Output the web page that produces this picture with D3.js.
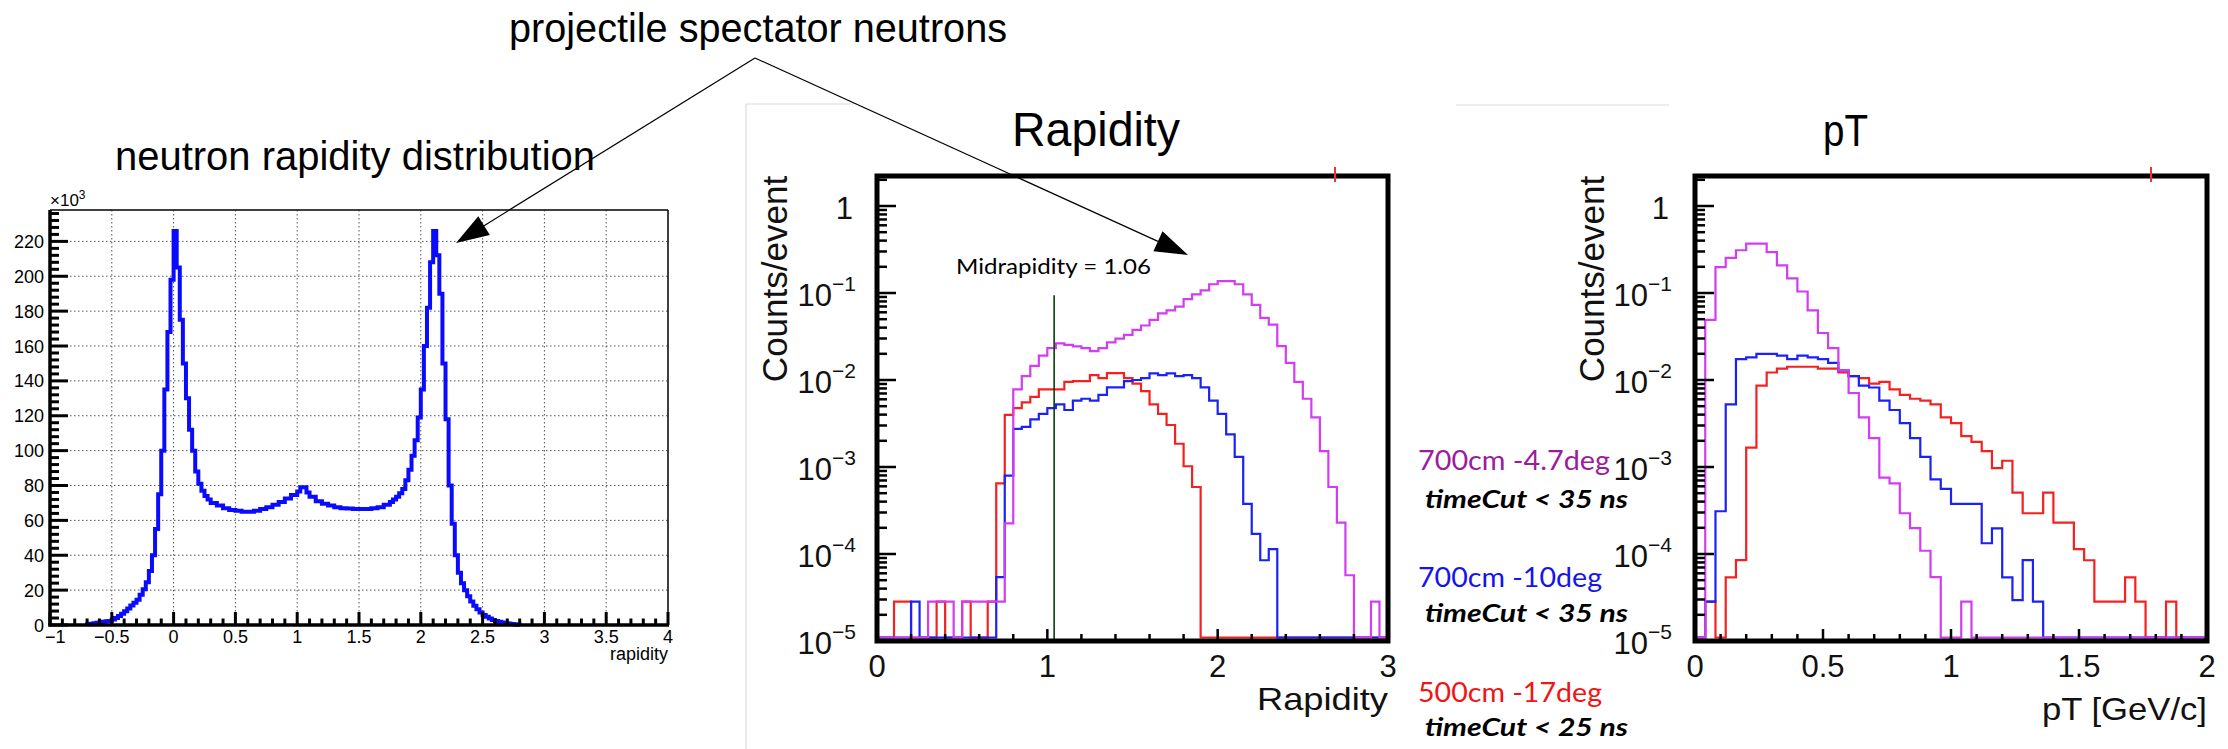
<!DOCTYPE html>
<html><head><meta charset="utf-8">
<script src="https://cdn.jsdelivr.net/npm/d3@7"></script>
<style>body{margin:0;background:#fff}svg{display:block}</style>
</head><body>
<svg id="c" width="2228" height="749"></svg>
<script>
// ---------------- DATA ----------------
// Left panel: neutron rapidity distribution (counts x10^3), bin lower edges + last upper edge
const leftEdges=[-0.700,-0.675,-0.650,-0.625,-0.600,-0.575,-0.550,-0.525,-0.500,-0.475,-0.450,-0.425,-0.400,-0.375,-0.350,-0.325,-0.300,-0.275,-0.250,-0.225,
 -0.200,-0.175,-0.150,-0.125,-0.100,-0.075,-0.050,-0.025,0.000,0.025,0.050,0.075,0.100,0.125,0.150,0.175,0.200,0.225,0.250,0.275,
 0.30,0.35,0.40,0.45,0.50,0.55,0.60,0.65,0.70,0.75,0.80,0.85,0.90,0.95,
 1.000,1.025,1.050,1.075,1.100,
 1.15,1.20,1.25,1.30,1.35,1.40,1.45,1.50,1.55,1.60,1.65,1.70,
 1.750,1.775,1.800,1.825,1.850,1.875,1.900,1.925,1.950,1.975,2.000,2.025,2.050,2.075,2.100,2.125,2.150,2.175,2.200,2.225,
 2.250,2.275,2.300,2.325,2.350,2.375,2.400,2.425,2.450,2.475,2.500,2.525,2.550,2.575,2.600,2.625,2.650,2.675,2.700,2.725,
 2.750,2.775,2.800];
const leftCounts=[0.4,0.7,1.0,1.3,1.6,1.9,2.1,2.3,3.1,4.0,5.2,6.4,7.9,9.5,11.2,12.8,14.5,17.3,20.5,24.5,
 31,40,55,75,100,135,168,198,226,205,175,150,130,112,100,88,81,77,74,72,
 70,68.5,67,66,65.5,65,65,65.5,66.5,67.5,69,70.5,72.5,74.5,
 76.5,79,79,76,73.5,
 71,69.5,68.5,67.5,67,66.8,66.5,66.5,66.5,67,67.5,69,
 70.5,72,73.5,75.5,78,83,89,97,106,119,135,160,182,208,226,212,190,150,118,80,58,40,30,24,
 20,16.5,13.5,11,9,7.2,5.8,4.7,3.7,2.9,2.3,1.8,1.4,1.1,0.8,0.6,0.4,0.2];
const leftXTicks=[-1,-0.5,0,0.5,1,1.5,2,2.5,3,3.5,4];
const leftXTickLabels=["\u22121","\u22120.5","0","0.5","1","1.5","2","2.5","3","3.5","4"];
const leftYTicks=[0,20,40,60,80,100,120,140,160,180,200,220];

// Rapidity panel (counts/event), bin width 0.05 from 0 to 3
const rapBinWidth=0.05;
const rapRed=[0,0,2.84e-5,2.84e-5,0,0,0,2.84e-5,0,0,2.84e-5,0,0,2.84e-5,6.5e-4,
 0.00397,0.00475,0.00552,0.00641,0.00781,0.00781,0.00781,0.00953,0.00972,0.00972,
 0.0114,0.0105,0.0120,0.0120,0.0105,0.00907,0.00743,0.00525,0.00409,0.00304,
 0.00185,0.00102,0.000589,
 0,0,0,0,0,0,0,0,0,0,0,0,0,0,0,0,0,0,0,0,0,0];
const rapBlue=[0,0,0,0,2.84e-5,0,0,0,0,0,0,0,0,0,5.42e-5,
 0.000794,0.00275,0.00289,0.00353,0.00409,0.00475,0.00525,0.00452,0.00580,0.00609,
 0.00580,0.00673,0.00821,0.00821,0.00972,0.0100,0.0105,0.0119,0.0114,0.0119,
 0.0111,0.0114,0.0105,0.00821,0.00580,0.00409,0.00237,0.00131,0.000377,0.000170,
 0.0000848,0.000114,0,0,0,0,0,0,0,0,0,0,0,0,0];
const rapMagenta=[0,0,0,0,0,0,2.84e-5,2.84e-5,2.84e-5,0,2.84e-5,2.84e-5,2.84e-5,2.84e-5,2.84e-5,
 2.25e-4,7.8e-3,0.0111,0.0145,0.0191,0.0233,0.0263,0.0253,0.0243,0.0233,
 0.0215,0.0233,0.0271,0.0299,0.0330,0.0376,0.0423,0.0492,0.0582,0.0631,
 0.0697,0.0849,0.0966,0.107,0.126,0.137,0.137,0.126,0.0966,0.0732,
 0.0517,0.0432,0.0245,0.0157,0.00953,0.00609,0.00371,0.00152,0.000589,0.000229,
 0.000057,0,0,2.84e-5,0];

// pT panel (counts/event), bin width 0.04 from 0 to 2
const ptBinWidth=0.04;
const ptRed=[0,2.84e-5,0,5.4e-5,8.5e-5,0.00167,0.00863,0.0122,0.0135,0.0142,
 0.0142,0.0142,0.0135,0.0135,0.0122,0.0111,0.0105,0.00907,0.00953,0.00781,
 0.00673,0.00609,0.0058,0.00525,0.00371,0.00319,0.00226,0.00194,0.00152,0.00097,
 0.00118,0.000508,0.000294,0.000294,0.000508,0.000229,0.000229,0.000114,0.0000848,2.84e-5,
 2.84e-5,2.84e-5,5.4e-5,2.84e-5,0,0,2.84e-5,0,0,0];
const ptBlue=[0,2.84e-5,3.1e-4,5.25e-3,0.0174,0.0182,0.020,0.020,0.0191,0.0174,
 0.0191,0.0182,0.0174,0.0157,0.0129,0.0111,0.0086,0.0082,0.0058,0.00452,
 0.00319,0.00215,0.00131,0.00072,0.00056,0.000377,0.000377,0.000377,0.000133,0.000197,
 5.4e-5,2.95e-5,8.5e-5,2.84e-5,0,0,0,0,0,0,0,0,0,0,0,0,0,0,0,0];
const ptMagenta=[0,0.049,0.198,0.254,0.31,0.37,0.37,0.295,0.208,0.147,
 0.104,0.063,0.0347,0.0233,0.0129,0.00709,0.00371,0.00215,0.000755,0.00065,
 0.000294,0.000198,0.000109,0.0000542,0,0,2.84e-5,0,0,0,
 0,0,0,0,0,0,0,0,0,0,0,0,0,0,0,0,0,0,0,0];

const rapXTicks=[0,1,2,3];
const rapXTickLabels=["0","1","2","3"];
const ptXTicks=[0,0.5,1,1.5,2];
const ptXTickLabels=["0","0.5","1","1.5","2"];
const logTicks=[1,1e-1,1e-2,1e-3,1e-4,1e-5];
const logTickExps=[null,"\u22121","\u22122","\u22123","\u22124","\u22125"];

const midrapidityX=1.04, midrapidityTop=0.094;
const midrapidityLabel="Midrapidity = 1.06";
const legendItems=[
 {name:"700cm -4.7deg", cut:"timeCut < 35 ns", color:"#9b1d9b"},
 {name:"700cm -10deg", cut:"timeCut < 35 ns", color:"#1414f0"},
 {name:"500cm -17deg", cut:"timeCut < 25 ns", color:"#f01414"}
];
const topAnnotation="projectile spectator neutrons";
const leftTitle="neutron rapidity distribution";

// ---------------- DRAW ----------------
const svg=d3.select("#c");
const SANS="'Liberation Sans', Arial, Helvetica, sans-serif";
const CAL="Lato, 'Open Sans', sans-serif";
const defs=svg.append("defs");

function stepPts(edges, vals){
  const p=[[edges[0],0]];
  vals.forEach((v,i)=>p.push([edges[i],v]));
  p.push([edges[edges.length-1],vals[vals.length-1]]);
  p.push([edges[edges.length-1],0]);
  return p;
}

// ===== Left panel =====
const L={x0:50,x1:668,y0:210,y1:625};
const lx=d3.scaleLinear().domain([-1,4]).range([L.x0,L.x1]);
const ly=d3.scaleLinear().domain([0,238]).range([L.y1,L.y0]);
const gl=svg.append("g");
// grid
gl.selectAll(".gx").data(leftXTicks.slice(1,-1)).enter().append("line")
 .attr("x1",d=>lx(d)).attr("x2",d=>lx(d)).attr("y1",L.y0).attr("y2",L.y1)
 .attr("stroke","#555").attr("stroke-width",1).attr("stroke-dasharray","1.5,2.5");
gl.selectAll(".gy").data(leftYTicks.slice(1)).enter().append("line")
 .attr("x1",L.x0).attr("x2",L.x1).attr("y1",d=>ly(d)).attr("y2",d=>ly(d))
 .attr("stroke","#555").attr("stroke-width",1).attr("stroke-dasharray","1.5,2.5");
// frame thin top/right
gl.append("line").attr("x1",L.x0).attr("x2",L.x1).attr("y1",L.y0).attr("y2",L.y0).attr("stroke","#000").attr("stroke-width",1.5);
gl.append("line").attr("x1",L.x1).attr("x2",L.x1).attr("y1",L.y0).attr("y2",L.y1).attr("stroke","#000").attr("stroke-width",1.5);
// histogram
gl.append("path").attr("d",d3.line().x(d=>lx(d[0])).y(d=>ly(d[1])).curve(d3.curveStepAfter)(stepPts(leftEdges,leftCounts)))
 .attr("fill","none").attr("stroke","#0a0aff").attr("stroke-width",4);
// ticks
const lxMinor=d3.range(-10,41).map(i=>i/10);
gl.selectAll(".txm").data(lxMinor).enter().append("line")
 .attr("x1",d=>lx(d)).attr("x2",d=>lx(d)).attr("y1",L.y1)
 .attr("y2",d=>L.y1-(Math.abs(d*2-Math.round(d*2))<1e-6?13:6.5))
 .attr("stroke","#000").attr("stroke-width",3);
const lyMinor=d3.range(0,60).map(i=>i*4);
gl.selectAll(".tym").data(lyMinor).enter().append("line")
 .attr("y1",d=>ly(d)).attr("y2",d=>ly(d)).attr("x1",L.x0)
 .attr("x2",d=>L.x0+(d%20===0?18:9))
 .attr("stroke","#000").attr("stroke-width",3);
gl.append("line").attr("x1",L.x0).attr("x2",L.x0).attr("y1",L.y0).attr("y2",L.y1+1.5).attr("stroke","#000").attr("stroke-width",3.5);
gl.append("line").attr("x1",L.x0-1.5).attr("x2",L.x1+1).attr("y1",L.y1).attr("y2",L.y1).attr("stroke","#000").attr("stroke-width",3.5);
// labels
gl.selectAll(".lxl").data(leftXTicks).enter().append("text")
 .attr("x",(d,i)=>i===0?45:lx(d)).attr("y",643).attr("text-anchor",(d,i)=>i===0?"start":"middle")
 .attr("font-family",SANS).attr("font-size",18).text((d,i)=>leftXTickLabels[i]);
gl.selectAll(".lyl").data(leftYTicks).enter().append("text")
 .attr("x",44).attr("y",d=>ly(d)+6.5).attr("text-anchor","end")
 .attr("font-family",SANS).attr("font-size",18).text(d=>d);
gl.append("text").attr("x",L.x1).attr("y",660).attr("text-anchor","end")
 .attr("font-family",SANS).attr("font-size",18).text("rapidity");
const xt=gl.append("text").attr("x",50).attr("y",206).attr("font-family",SANS).attr("font-size",17);
xt.append("tspan").text("\u00d710");
xt.append("tspan").attr("dy",-7).attr("font-size",12).text("3");
// title
svg.append("text").attr("x",115).attr("y",170).attr("font-family",SANS).attr("font-size",40)
 .attr("textLength",480).attr("lengthAdjust","spacingAndGlyphs").text(leftTitle);

// ===== Log panels =====
const LOGTOP=176, LOGBOT=641;
const ylog=d3.scaleLog().domain([1e-5,1]).range([641,206]);
const topVal=ylog.invert(LOGTOP);
const yZero=LOGBOT-3.5;
const yv=v=>v>0?Math.min(ylog(v),yZero):yZero;

function logPanel(cfg){
  const g=svg.append("g");
  const x=d3.scaleLinear().domain(cfg.domain).range([cfg.x0,cfg.x1]);
  const id="clip"+cfg.id;
  defs.append("clipPath").attr("id",id).append("rect")
   .attr("x",cfg.x0).attr("y",LOGTOP).attr("width",cfg.x1-cfg.x0).attr("height",LOGBOT-LOGTOP);
  const hg=g.append("g").attr("clip-path",`url(#${id})`);
  const line=d3.line().x(d=>x(d[0])).y(d=>yv(d[1])).curve(d3.curveStepAfter);
  cfg.series.forEach(s=>{
    const edges=d3.range(s.vals.length+1).map(i=>i*cfg.bw);
    hg.append("path").attr("d",line(stepPts(edges,s.vals)))
     .attr("fill","none").attr("stroke",s.color).attr("stroke-width",2.2);
  });
  if(cfg.extra) cfg.extra(g,x);
  // left ticks (log)
  const lt=[];
  for(let e=-5;e<=0;e++){for(let m=1;m<=9;m++){const v=m*Math.pow(10,e); if(v<=topVal) lt.push({v,maj:m===1});}}
  g.selectAll(".lt").data(lt).enter().append("line")
   .attr("x1",cfg.x0).attr("x2",d=>cfg.x0+(d.maj?19:10))
   .attr("y1",d=>ylog(d.v)).attr("y2",d=>ylog(d.v)).attr("stroke","#000").attr("stroke-width",2.5);
  // bottom ticks
  g.selectAll(".bt").data(cfg.bticks).enter().append("line")
   .attr("x1",d=>x(d.v)).attr("x2",d=>x(d.v)).attr("y1",LOGBOT).attr("y2",d=>LOGBOT-(d.maj?12:7))
   .attr("stroke","#000").attr("stroke-width",2.5);
  // frame
  g.append("rect").attr("x",cfg.x0).attr("y",LOGTOP).attr("width",cfg.x1-cfg.x0).attr("height",LOGBOT-LOGTOP)
   .attr("fill","none").attr("stroke","#000").attr("stroke-width",5);
  // red stray tick at top
  g.append("line").attr("x1",cfg.redTick).attr("x2",cfg.redTick).attr("y1",LOGTOP-9).attr("y2",LOGTOP+6)
   .attr("stroke","#f03030").attr("stroke-width",2);
  // y labels
  logTicks.forEach((v,i)=>{
    const t=g.append("text").attr("x",cfg.ylabX).attr("y",ylog(v)+13).attr("text-anchor","end")
     .attr("font-family",SANS).attr("font-size",31).attr("fill","#111");
    if(logTickExps[i]===null){t.attr("x",cfg.ylabX-3).text("1");}
    else{t.append("tspan").text("10");t.append("tspan").attr("dy",-15).attr("font-size",21).text(logTickExps[i]);}
  });
  // x labels
  g.selectAll(".xl").data(cfg.xticks).enter().append("text")
   .attr("x",d=>x(d)).attr("y",677).attr("text-anchor","middle")
   .attr("font-family",SANS).attr("font-size",31).attr("fill","#111").text((d,i)=>cfg.xlabels[i]);
  // axis titles
  g.append("text").attr("x",cfg.x1).attr("y",cfg.xtitleY).attr("text-anchor","end")
   .attr("font-family",SANS).attr("font-size",32).attr("fill","#111")
   .attr("textLength",cfg.xtitleLen).attr("lengthAdjust","spacingAndGlyphs").text(cfg.xtitle);
  g.append("text").attr("transform",`translate(${cfg.ytitleX},279) rotate(-90)`).attr("text-anchor","middle")
   .attr("font-family",SANS).attr("font-size",35).attr("fill","#111").text("Counts/event");
  // panel title
  g.append("text").attr("x",cfg.titleX).attr("y",146).attr("font-family",SANS).attr("font-size",cfg.titleSize)
   .attr("textLength",cfg.titleLen).attr("lengthAdjust","spacingAndGlyphs").text(cfg.title);
  return x;
}

// pasted-image faint borders
svg.append("path").attr("d","M746,749 L746,104 L854,104").attr("fill","none").attr("stroke","#dcdcdc").attr("stroke-width",1.2);
svg.append("line").attr("x1",1456).attr("x2",1669).attr("y1",105).attr("y2",105).attr("stroke","#dcdcdc").attr("stroke-width",1.2);

const rapTicks=d3.range(0,16).map(i=>({v:i*0.2,maj:i%5===0}));
logPanel({id:"rap",x0:877,x1:1388,domain:[0,3],bw:rapBinWidth,
  series:[{vals:rapRed,color:"#f52020"},{vals:rapBlue,color:"#1a22f5"},{vals:rapMagenta,color:"#d23cf2"}],
  bticks:rapTicks,xticks:rapXTicks,xlabels:rapXTickLabels,ylabX:856,
  xtitle:"Rapidity",xtitleY:710,xtitleLen:131,ytitleX:787,
  title:"Rapidity",titleX:1012,titleSize:48,titleLen:168,redTick:1335,
  extra:(g,x)=>{
    g.append("line").attr("x1",x(midrapidityX)).attr("x2",x(midrapidityX))
     .attr("y1",ylog(midrapidityTop)).attr("y2",LOGBOT).attr("stroke","#0b3d0b").attr("stroke-width",1.6);
    g.append("text").attr("x",956).attr("y",274).attr("font-family",CAL).attr("font-size",22)
     .attr("textLength",195).attr("lengthAdjust","spacingAndGlyphs").text(midrapidityLabel);
  }});
const ptTicks=d3.range(0,21).map(i=>({v:i*0.1,maj:i%5===0}));
logPanel({id:"pt",x0:1695,x1:2207,domain:[0,2],bw:ptBinWidth,
  series:[{vals:ptRed,color:"#f52020"},{vals:ptBlue,color:"#1a22f5"},{vals:ptMagenta,color:"#d23cf2"}],
  bticks:ptTicks,xticks:ptXTicks,xlabels:ptXTickLabels,ylabX:1672,
  xtitle:"pT [GeV/c]",xtitleY:720,xtitleLen:165,ytitleX:1604,
  title:"pT",titleX:1823,titleSize:44,titleLen:45,redTick:2151});

// legend texts
const legY=[[470,508],[587,622],[702,736]];
const legLen=[192,184,184];
legendItems.forEach((it,i)=>{
  svg.append("text").attr("x",1418).attr("y",legY[i][0]).attr("font-family",CAL).attr("font-size",27)
   .attr("fill",it.color).attr("textLength",legLen[i]).attr("lengthAdjust","spacingAndGlyphs").text(it.name);
  svg.append("text").attr("x",1425).attr("y",legY[i][1]).attr("font-family",CAL).attr("font-size",25)
   .attr("font-weight","bold").attr("font-style","italic").attr("fill","#000")
   .attr("textLength",203).attr("lengthAdjust","spacingAndGlyphs").text(it.cut);
});

// top annotation + arrows
svg.append("text").attr("x",509).attr("y",42).attr("font-family",SANS).attr("font-size",40)
 .attr("textLength",498).attr("lengthAdjust","spacingAndGlyphs").text(topAnnotation);
const apex=[755,58];
const tips=[[456,243],[1188,255]];
tips.forEach(t=>{
  const dx=t[0]-apex[0], dy=t[1]-apex[1], len=Math.hypot(dx,dy);
  const ux=dx/len, uy=dy/len, nx=-uy, ny=ux;
  const bx=t[0]-33*ux, by=t[1]-33*uy;
  svg.append("line").attr("x1",apex[0]).attr("y1",apex[1]).attr("x2",bx).attr("y2",by)
   .attr("stroke","#000").attr("stroke-width",1.2);
  svg.append("path").attr("d",`M${t[0]},${t[1]}L${bx+11*nx},${by+11*ny}L${bx-11*nx},${by-11*ny}Z`).attr("fill","#000");
});
</script>
</body></html>
